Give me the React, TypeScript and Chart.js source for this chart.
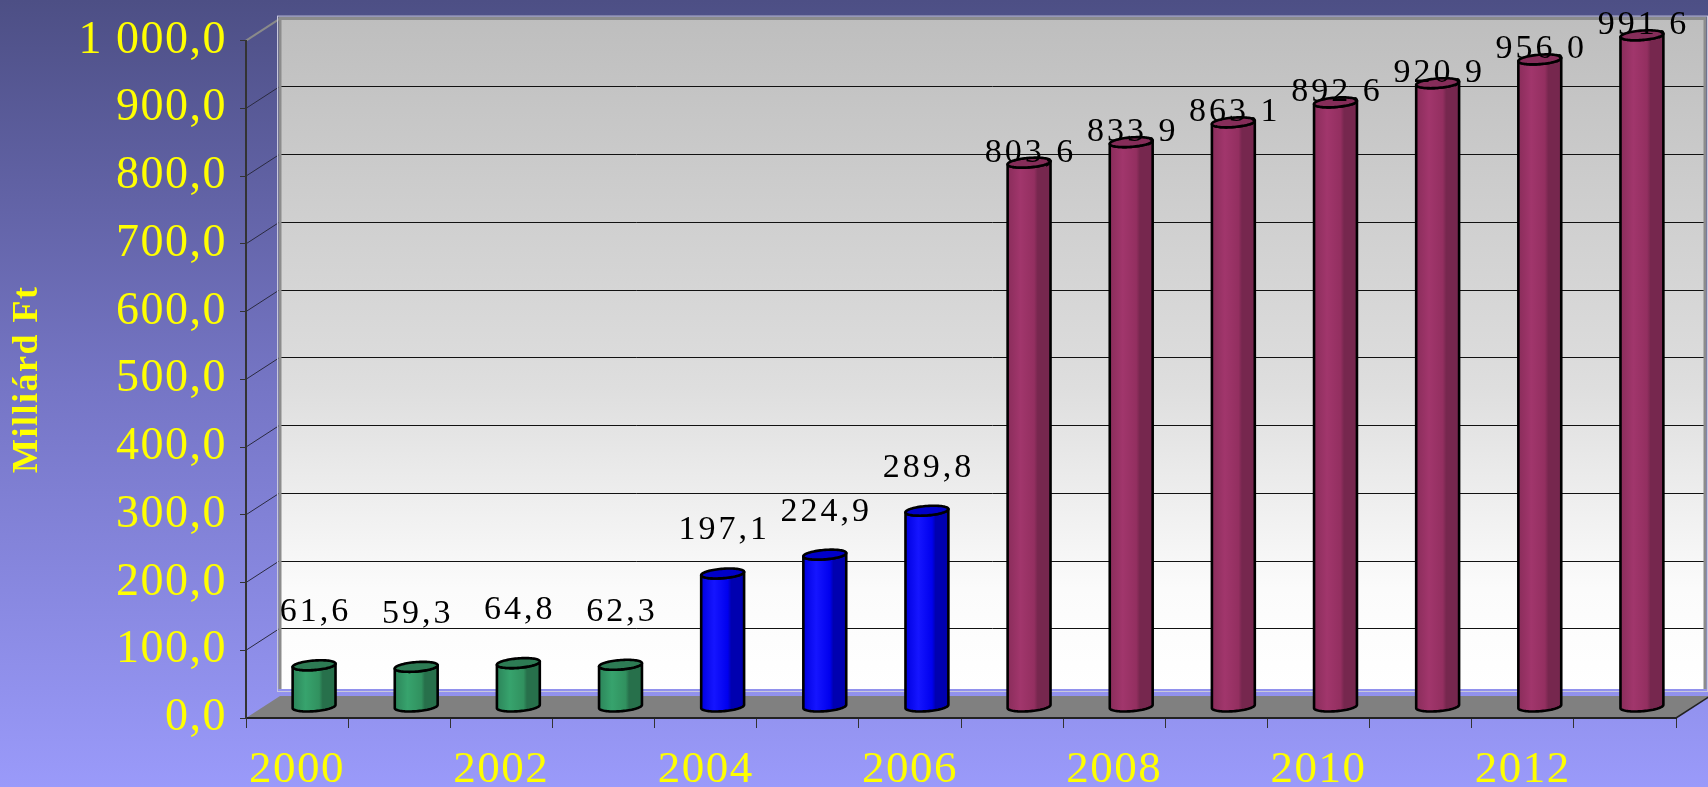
import React, { useEffect, useRef } from 'react';
import { Chart, registerables } from 'chart.js';

Chart.register(...registerables);

// ---- data ----
const years = ['2000', '2001', '2002', '2003', '2004', '2005', '2006', '2007', '2008', '2009', '2010', '2011', '2012', '2013'];
const seriesEarly = [61.6, 59.3, 64.8, 62.3, null, null, null, null, null, null, null, null, null, null];
const seriesMid = [null, null, null, null, 197.1, 224.9, 289.8, null, null, null, null, null, null, null];
const seriesLate = [null, null, null, null, null, null, null, 803.6, 833.9, 863.1, 892.6, 920.9, 956.0, 991.6];
const yAxisTitle = 'Milliárd Ft';

const SERIF = '"Liberation Serif", "Times New Roman", serif';
const DX = 34;
const DY = -22;

const fmt = (v: number) => {
  const [i, d] = v.toFixed(1).split('.');
  return i.replace(/\B(?=(\d{3})+(?!\d))/g, ' ') + ',' + d;
};

type Pal = { stops: string[]; top: string; lift: number };
const palettes: Pal[] = [
  { stops: ['#2c855a', '#37a36d', '#31915f', '#27704b'], top: '#2d7b54', lift: 53 },
  { stops: ['#0000e0', '#1515ff', '#0000ee', '#0000b0'], top: '#0000c8', lift: 43 },
  { stops: ['#8a2d5b', '#a1366c', '#932f60', '#76274e'], top: '#852d59', lift: 10 },
];

function cylinder(ctx: CanvasRenderingContext2D, cx: number, topY: number, botY: number, half: number, pal: Pal) {
  const ax = 7;
  const ay = -5;
  const r = Math.sqrt(Math.max(half * half - ax * ax, 1));
  const t0 = Math.atan2(ax, r);
  const pt = (cy: number, t: number): [number, number] => [cx + r * Math.cos(t) + ax * Math.sin(t), cy + ay * Math.sin(t)];
  const N = 40;
  ctx.beginPath();
  let p = pt(topY, Math.PI + t0);
  ctx.moveTo(p[0], p[1]);
  for (let k = 0; k <= N; k++) {
    const t = Math.PI + t0 + (Math.PI * k) / N;
    p = pt(botY, t);
    ctx.lineTo(p[0], p[1]);
  }
  for (let k = N; k >= 0; k--) {
    const t = Math.PI + t0 + (Math.PI * k) / N;
    p = pt(topY, t);
    ctx.lineTo(p[0], p[1]);
  }
  ctx.closePath();
  const g = ctx.createLinearGradient(cx - half, 0, cx + half, 0);
  g.addColorStop(0, pal.stops[0]);
  g.addColorStop(0.3, pal.stops[1]);
  g.addColorStop(0.62, pal.stops[2]);
  g.addColorStop(0.7, pal.stops[3]);
  g.addColorStop(1, pal.stops[3]);
  ctx.fillStyle = g;
  ctx.fill();
  ctx.lineWidth = 2.6;
  ctx.strokeStyle = '#000';
  ctx.lineJoin = 'round';
  ctx.stroke();
  ctx.beginPath();
  for (let k = 0; k <= 2 * N; k++) {
    const t = (Math.PI * k) / N;
    p = pt(topY, t);
    if (k === 0) ctx.moveTo(p[0], p[1]);
    else ctx.lineTo(p[0], p[1]);
  }
  ctx.closePath();
  ctx.fillStyle = pal.top;
  ctx.fill();
  ctx.stroke();
}

const threeD = {
  id: 'threeD',
  beforeDraw(chart: any) {
    const { ctx, chartArea: a, scales } = chart;
    const ys = scales.y;
    const W = chart.width;
    const H = chart.height;
    ctx.save();
    const bg = ctx.createLinearGradient(0, 0, 0, H);
    bg.addColorStop(0, '#4d4f85');
    bg.addColorStop(0.5, '#7676c6');
    bg.addColorStop(1, '#9a9afa');
    ctx.fillStyle = bg;
    ctx.fillRect(0, 0, W, H);

    const wl = a.left + DX;
    const wt = a.top + DY;
    const wr = Math.min(a.right + DX, W - 3);
    const floorBack = a.bottom + DY;
    const wb = floorBack - 7;
    const wg = ctx.createLinearGradient(0, wt, 0, wb);
    wg.addColorStop(0, '#bebebe');
    wg.addColorStop(0.55, '#dedede');
    wg.addColorStop(0.85, '#fbfbfb');
    wg.addColorStop(1, '#ffffff');
    ctx.fillStyle = wg;
    ctx.fillRect(wl, wt, wr - wl, wb - wt);

    ctx.lineWidth = 1;
    ys.ticks.forEach((tk: any) => {
      const v = tk.value;
      const py = ys.getPixelForValue(v);
      if (v > ys.min && v < ys.max) {
        ctx.strokeStyle = '#111';
        ctx.beginPath();
        ctx.moveTo(wl, Math.round(py + DY) + 0.5);
        ctx.lineTo(wr, Math.round(py + DY) + 0.5);
        ctx.stroke();
        ctx.strokeStyle = '#2a2a40';
        ctx.beginPath();
        ctx.moveTo(a.left, py);
        ctx.lineTo(wl, py + DY);
        ctx.stroke();
      }
    });
    ctx.strokeStyle = '#8a8a8a';
    ctx.lineWidth = 2;
    ctx.beginPath();
    ctx.moveTo(a.left, a.top);
    ctx.lineTo(wl, wt);
    ctx.stroke();

    ctx.strokeStyle = '#c8c8dc';
    ctx.lineWidth = 1;
    ctx.strokeRect(wl - 2.5, wt - 2.5, wr - wl + 5, wb - wt + 5);
    ctx.strokeStyle = '#8c8c8c';
    ctx.lineWidth = 3;
    ctx.beginPath();
    ctx.moveTo(wl, wb);
    ctx.lineTo(wl, wt);
    ctx.lineTo(wr, wt);
    ctx.lineTo(wr, wb);
    ctx.stroke();

    ctx.fillStyle = '#808080';
    ctx.beginPath();
    ctx.moveTo(a.left, a.bottom);
    ctx.lineTo(wl, floorBack);
    ctx.lineTo(a.right + DX, floorBack);
    ctx.lineTo(a.right, a.bottom);
    ctx.closePath();
    ctx.fill();
    ctx.strokeStyle = '#222';
    ctx.lineWidth = 1.5;
    ctx.beginPath();
    ctx.moveTo(a.right, a.bottom);
    ctx.lineTo(a.right + DX, floorBack);
    ctx.stroke();
    ctx.restore();
    ctx.letterSpacing = '1.5px';
  },
  afterDatasetsDraw(chart: any) {
    const { ctx } = chart;
    ctx.save();
    ctx.letterSpacing = '0px';
    const labels: { x: number; y: number; t: string }[] = [];
    chart.data.datasets.forEach((ds: any, di: number) => {
      const meta = chart.getDatasetMeta(di);
      const pal = palettes[di];
      meta.data.forEach((el: any, i: number) => {
        const v = ds.data[i];
        if (v === null || v === undefined) return;
        const cx = el.x + DX / 2;
        const topY = el.y + DY / 2;
        const botY = el.base + DY / 2;
        cylinder(ctx, cx, topY, botY, el.width / 2, pal);
        labels.push({ x: cx, y: topY - pal.lift, t: fmt(v) });
      });
    });
    ctx.font = `34px ${SERIF}`;
    ctx.letterSpacing = '3px';
    ctx.fillStyle = '#000';
    ctx.textAlign = 'center';
    ctx.textBaseline = 'middle';
    labels.forEach((l) => ctx.fillText(l.t, l.x + 1.5, l.y));
    ctx.restore();
    ctx.letterSpacing = '1.5px';
  },
};

export default function App() {
  const ref = useRef<HTMLCanvasElement | null>(null);
  useEffect(() => {
    document.body.style.margin = '0';
    const canvas = ref.current;
    if (!canvas) return;
    const mk = (data: (number | null)[]) => ({
      data,
      backgroundColor: 'rgba(0,0,0,0)',
      borderWidth: 0,
      barPercentage: 0.42,
      categoryPercentage: 1,
      grouped: false,
    });
    const chart = new Chart(canvas, {
      type: 'bar',
      data: {
        labels: years,
        datasets: [mk(seriesEarly), mk(seriesMid), mk(seriesLate)] as any,
      },
      options: {
        responsive: false,
        animation: false,
        devicePixelRatio: 1,
        layout: { padding: { top: 36, right: 32, left: 0, bottom: 0 } },
        plugins: { legend: { display: false }, tooltip: { enabled: false } },
        scales: {
          x: {
            type: 'category',
            afterFit: (s: any) => {
              s.height = 69;
            },
            grid: { drawOnChartArea: false, drawTicks: true, tickLength: 10, color: '#333', offset: true },
            border: { display: true, color: '#222', width: 2 },
            ticks: {
              autoSkip: false,
              maxRotation: 0,
              minRotation: 0,
              padding: 15,
              color: '#ffff00',
              font: { family: SERIF, size: 45 },
              callback: (_v: any, idx: number) => (idx % 2 === 0 ? years[idx] : ''),
            },
          },
          y: {
            type: 'linear',
            min: 0,
            max: 1000,
            afterFit: (s: any) => {
              s.width = 246;
            },
            grid: { drawOnChartArea: false, drawTicks: true, tickLength: 6, color: '#333' },
            border: { display: true, color: '#333', width: 2 },
            ticks: {
              stepSize: 100,
              padding: 13,
              color: '#ffff00',
              font: { family: SERIF, size: 46 },
              callback: (v: any) => fmt(Number(v)),
            },
            title: {
              display: true,
              text: yAxisTitle,
              color: '#ffff00',
              font: { family: SERIF, size: 36, weight: 'bold' },
              padding: { top: 6, bottom: 0 },
            },
          },
        },
      } as any,
      plugins: [threeD],
    });
    return () => chart.destroy();
  }, []);
  return (
    <div style={{ width: 1708, height: 787 }}>
      <canvas ref={ref} width={1708} height={787} style={{ display: 'block' }} />
    </div>
  );
}
